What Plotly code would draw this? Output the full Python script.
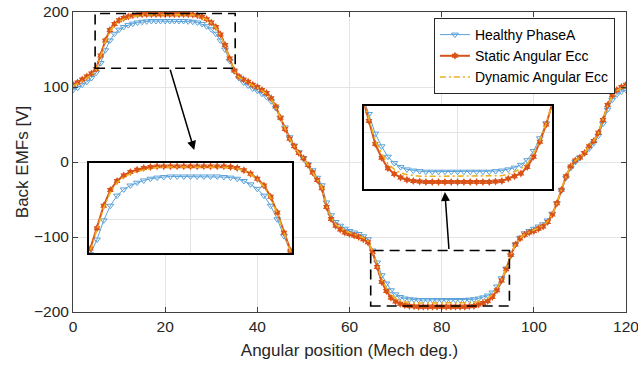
import plotly.graph_objects as go

# Angular position (mech deg), sampled every 1 degree
angle = list(range(0, 121))

healthy = [96, 99, 103, 107, 112, 119, 132, 149, 162, 171,
           176.5, 180, 182.5, 184.5, 186, 187, 187.5, 188, 188, 188,
           188, 188, 188, 188, 188, 187.5, 187, 186, 184, 181,
           177, 171, 162, 150, 135, 121, 112, 106, 102, 98,
           95, 91, 87, 81, 72, 59, 46, 33, 22, 13,
           5, -3, -11, -21, -31, -54, -71, -80, -85, -89,
           -92, -94, -96, -99, -103, -118, -134, -151, -162, -171,
           -176.5, -180, -182, -183, -183.5, -184, -184, -184, -184, -184,
           -184, -184, -184, -184, -184, -184, -183.5, -183, -182, -180.5,
           -178, -174, -166, -155, -142, -125, -110, -101, -95, -92,
           -89, -86, -83, -78, -69, -55, -38, -21, -8, 0,
           6, 12, 18, 25, 35, 51, 70, 83, 90, 94,
           96]

static_ecc = [103, 106, 110, 114, 118, 124, 142, 162, 176, 184,
              189, 192, 194, 195.5, 196.5, 197, 197, 197, 197, 197,
              197, 197, 197, 197, 197, 197, 196.5, 195.5, 193.5, 190.5,
              186, 180, 170, 156, 138, 122, 114, 110, 107, 103,
              100, 96, 92, 85, 74, 59, 44, 31, 21, 12,
              5, -4, -14, -24, -35, -60, -76, -85, -90, -94,
              -96, -98, -100, -103, -107, -120, -140, -160, -172, -181,
              -186, -189, -191, -192, -192.5, -193, -193, -193, -193, -193,
              -193, -193, -193, -193, -193, -193, -192.5, -192, -190, -188,
              -185.5, -180, -171, -158, -143, -124, -110, -102, -97, -94,
              -92, -89, -86, -80, -70, -55, -37, -19, -6, 2,
              6, 12, 21, 28, 39, 56, 76, 89, 96, 100,
              103]

dynamic_ecc = [101, 104, 108, 112, 116, 122, 140, 160, 174, 182.5,
               187.5, 190.5, 192.5, 194, 195, 196, 196.5, 196.5, 196.5, 196.5,
               196.5, 196.5, 196.5, 196.5, 196.5, 196.5, 196, 195, 193, 190,
               185.5, 179, 169, 155, 137, 121, 113, 109, 105.5, 102,
               99, 95, 91, 84, 73, 59, 44, 31, 21, 12,
               5, -4, -13, -23, -34, -58, -74, -83, -88, -92,
               -94, -96, -98, -101, -105, -119, -138, -157, -168, -177,
               -182, -185, -186.5, -187.5, -188, -188, -188, -188, -188, -188,
               -188, -188, -188, -188, -188, -188, -188, -187.5, -186, -184,
               -181.5, -177, -169, -157, -142, -124, -110, -101.5, -96.5, -93.5,
               -91, -88, -85, -79, -69.5, -55, -37, -19, -6, 2,
               6, 12, 21, 28, 38.5, 55.5, 75, 88, 95, 99,
               101]

series_names = ["Healthy PhaseA", "Static Angular Ecc", "Dynamic Angular Ecc"]
x_ticks = [0, 20, 40, 60, 80, 100, 120]
y_ticks = [-200, -100, 0, 100, 200]

BLUE = "#5AA2DA"
ORANGE = "#D95319"
YELLOW = "#EDB120"
FONT = "Liberation Sans, Arial, sans-serif"
TXT = "#262626"
GRID = "#e4e4e4"

fig = go.Figure()

panels = [("x", "y", True), ("x2", "y2", False), ("x3", "y3", False)]
for xa, ya, show in panels:
    fig.add_trace(go.Scatter(
        x=angle, y=healthy, name=series_names[0], mode="lines+markers",
        line=dict(color=BLUE, width=1),
        marker=dict(symbol="triangle-down-open", size=6, color=BLUE, line=dict(width=1)),
        xaxis=xa, yaxis=ya, showlegend=show, legendgroup="h"))
    fig.add_trace(go.Scatter(
        x=angle, y=static_ecc, name=series_names[1], mode="lines+markers",
        line=dict(color=ORANGE, width=2),
        marker=dict(symbol="hexagram", size=6, color=ORANGE),
        xaxis=xa, yaxis=ya, showlegend=show, legendgroup="s"))
    fig.add_trace(go.Scatter(
        x=angle, y=dynamic_ecc, name=series_names[2], mode="lines",
        line=dict(color=YELLOW, width=1.6, dash="6px,3px,2px,3px"),
        xaxis=xa, yaxis=ya, showlegend=show, legendgroup="d"))

main_axis = dict(showline=True, linecolor="#404040", linewidth=1, mirror="allticks",
                 ticks="inside", ticklen=5, tickcolor="#404040", automargin=False,
                 showgrid=True, gridcolor=GRID, gridwidth=1, zeroline=False,
                 tickfont=dict(family=FONT, size=15.5, color=TXT))
inset_axis = dict(showline=True, linecolor="black", linewidth=1.6, mirror=True,
                  ticks="", showticklabels=False, showgrid=True, gridcolor=GRID,
                  gridwidth=1, zeroline=False, automargin=False)

fig.update_layout(
    width=638, height=371, autosize=False,
    margin=dict(l=73, r=12, t=12, b=59, autoexpand=False),
    paper_bgcolor="white", plot_bgcolor="white",
    font=dict(family=FONT, color=TXT),
    xaxis=dict(main_axis, domain=[0, 1], range=[0, 120], tickvals=x_ticks,
               ticklabeloverflow="allow",
               title=dict(text="Angular position (Mech deg.)", standoff=10,
                          font=dict(family=FONT, size=17, color=TXT))),
    yaxis=dict(main_axis, domain=[0, 1], range=[-200, 200], tickvals=y_ticks,
               ticklabeloverflow="allow",
               title=dict(text="Back EMFs [V]", standoff=1,
                          font=dict(family=FONT, size=17, color=TXT))),
    xaxis2=dict(inset_axis, domain=[0.0289, 0.396], anchor="y2", range=[4.8, 35.2], tickvals=[20]),
    yaxis2=dict(inset_axis, domain=[0.1967, 0.4967], anchor="x2", range=[120, 200], tickvals=[150]),
    xaxis3=dict(inset_axis, domain=[0.526, 0.866], anchor="y3", range=[65.2, 94.9], tickvals=[80]),
    yaxis3=dict(inset_axis, domain=[0.41, 0.6867], anchor="x3", range=[-199, -127], tickvals=[-150]),
    legend=dict(x=0.98, y=0.98, xanchor="right", yanchor="top",
                bgcolor="white", bordercolor="#262626", borderwidth=1,
                font=dict(family=FONT, size=14, color="black"),
                itemwidth=30, tracegroupgap=0),
    showlegend=True,
)

# zoom-region dashed rectangles
fig.add_shape(type="rect", xref="x", yref="y", x0=4.8, x1=35.2, y0=125, y1=198,
              line=dict(color="black", width=1.6, dash="10px,6px"), layer="above")
fig.add_shape(type="rect", xref="x", yref="y", x0=64.6, x1=94.7, y0=-192, y1=-118,
              line=dict(color="black", width=1.6, dash="10px,6px"), layer="above")

# arrows to the insets
fig.add_annotation(x=26.3, y=16, ax=21.0, ay=125, xref="x", yref="y", axref="x", ayref="y",
                   text="", showarrow=True, arrowhead=2, arrowsize=1.2, arrowwidth=1.5,
                   arrowcolor="black", standoff=0)
fig.add_annotation(x=80.7, y=-40, ax=81.6, ay=-118, xref="x", yref="y", axref="x", ayref="y",
                   text="", showarrow=True, arrowhead=2, arrowsize=1.2, arrowwidth=1.5,
                   arrowcolor="black", standoff=0)

fig.write_html("out.html")
